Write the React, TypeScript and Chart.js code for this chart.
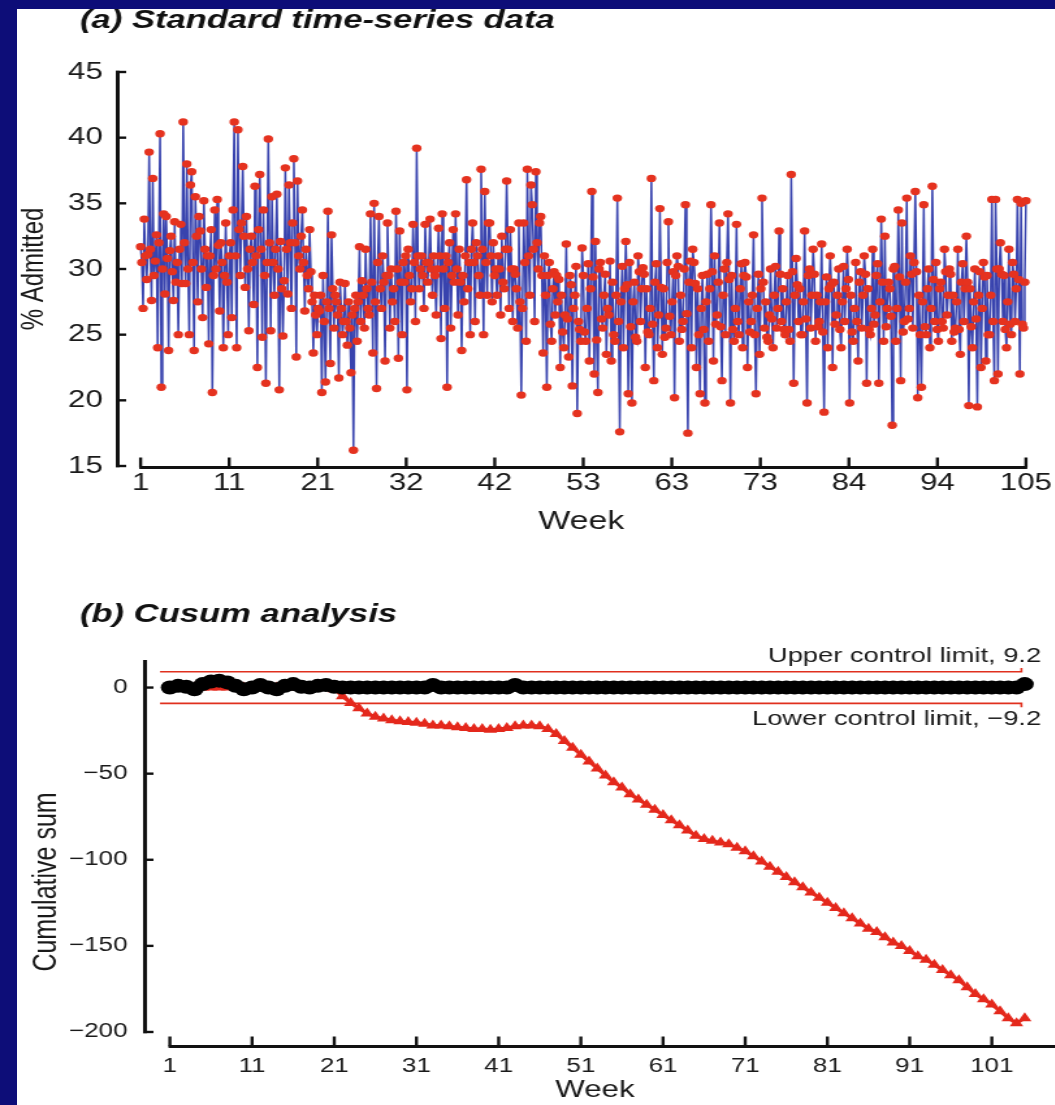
import React, { useEffect, useRef } from "react";
import { Chart, registerables } from "chart.js";

Chart.register(...registerables);

// ---------------- data ----------------
// Panel (a): % admitted, daily readings (7 per week), weeks 1..105
const admittedPct: number[] = [
  31.7, 30.5, 27.0, 33.8, 31.0, 29.2, 31.1,
  38.9, 31.5, 27.6, 36.9, 29.5, 30.6, 32.6,
  24.0, 32.0, 40.3, 21.0, 30.0, 34.2, 28.1,
  34.0, 30.8, 23.8, 31.4, 32.5, 29.8, 27.6,
  33.6, 29.0, 30.5, 25.0, 31.5, 33.4, 28.9,
  41.2, 32.0, 28.9, 38.0, 30.0, 25.0, 36.4,
  37.4, 30.5, 23.8, 35.5, 32.5, 27.5, 34.0,
  32.9, 30.0, 26.3, 35.2, 31.5, 28.6, 31.0,
  24.3, 31.0, 33.0, 20.6, 29.5, 34.5, 30.0,
  35.3, 31.8, 26.8, 32.0, 30.5, 24.0, 29.5,
  33.5, 29.0, 25.0, 31.0, 32.0, 26.3, 34.5,
  41.2, 31.0, 24.0, 40.6, 33.0, 29.5, 33.5,
  37.8, 32.5, 28.6, 34.0, 30.0, 25.3, 31.5,
  32.5, 30.5, 27.3, 36.3, 31.0, 22.5, 33.0,
  37.2, 31.5, 24.8, 34.5, 29.5, 21.3, 30.5,
  39.9, 32.0, 25.3, 35.5, 30.5, 28.0, 31.5,
  35.7, 30.0, 20.8, 32.1, 28.5, 24.9, 29.1,
  37.7, 31.5, 28.1, 36.4, 32.0, 27.0, 33.5,
  38.4, 32.0, 23.3, 36.7, 31.0, 30.0, 32.5,
  34.5, 30.5, 26.8, 31.5, 29.5, 28.5, 33.0,
  29.8, 27.5, 23.6, 28.0, 26.5, 25.0, 27.0,
  26.8, 28.0, 20.6, 29.5, 26.0, 21.4, 27.5,
  34.4, 27.0, 22.8, 32.6, 28.5, 25.5, 28.0,
  27.5, 26.5, 21.7, 29.0, 27.0, 25.0, 26.0,
  28.9, 26.0, 24.2, 27.5, 25.5, 22.1, 26.5,
  16.2, 27.0, 28.0, 24.5, 27.5, 31.7, 26.0,
  29.1, 28.0, 25.5, 31.5, 28.5, 27.0, 26.5,
  34.2, 29.0, 23.6, 35.0, 27.5, 20.9, 30.5,
  34.0, 28.5, 27.0, 31.0, 29.0, 23.0, 29.5,
  33.5, 29.5, 25.5, 30.0, 27.5, 28.5, 26.0,
  34.4, 30.0, 23.2, 32.9, 29.0, 25.0, 30.5,
  29.0, 31.0, 20.8, 31.5, 29.5, 27.5, 28.5,
  33.4, 30.5, 26.0, 39.2, 31.0, 28.5, 30.0,
  31.0, 29.5, 27.0, 33.4, 30.5, 29.0, 30.5,
  33.8, 30.0, 28.0, 31.0, 29.5, 26.5, 30.0,
  33.1, 31.0, 24.7, 34.2, 30.0, 27.0, 31.0,
  21.0, 30.5, 32.0, 25.5, 29.5, 33.0, 29.0,
  34.2, 30.0, 26.5, 31.5, 29.0, 23.8, 29.5,
  27.5, 31.0, 36.8, 28.5, 30.5, 25.0, 31.5,
  33.5, 30.5, 26.0, 32.0, 31.0, 29.5, 28.0,
  37.6, 31.5, 25.0, 35.9, 30.5, 28.0, 33.5,
  33.5, 31.0, 27.5, 32.0, 29.5, 30.0, 28.0,
  31.0, 30.0, 26.5, 32.5, 29.0, 28.5, 31.5,
  36.7, 31.5, 27.0, 33.0, 30.0, 26.0, 30.0,
  29.6, 28.5, 25.5, 33.5, 27.5, 20.4, 27.0,
  33.5, 30.5, 24.5, 37.6, 31.0, 28.0, 36.4,
  34.9, 31.5, 26.0, 37.4, 32.0, 30.0, 33.5,
  34.0, 29.5, 23.6, 31.0, 28.0, 21.0, 29.5,
  30.5, 25.8, 24.5, 28.5, 29.8, 26.5, 29.5,
  27.5, 29.2, 22.5, 28.0, 25.2, 24.0, 26.5,
  31.9, 26.2, 23.3, 29.5, 28.8, 21.1, 27.0,
  28.0, 30.2, 19.0, 26.0, 25.4, 24.5, 31.6,
  29.5, 25.2, 24.5, 27.0, 30.4, 23.0, 28.5,
  35.9, 29.4, 22.0, 32.1, 24.6, 20.6, 30.0,
  30.5, 26.2, 25.5, 28.0, 29.6, 23.5, 27.0,
  26.5, 30.6, 23.0, 29.0, 25.0, 24.5, 28.0,
  35.4, 26.0, 17.6, 27.5, 30.2, 24.0, 28.5,
  32.1, 28.8, 20.5, 30.5, 25.6, 19.8, 27.5,
  29.0, 24.8, 24.5, 31.0, 29.8, 26.0, 28.5,
  30.1, 29.6, 22.5, 28.5, 25.2, 25.0, 27.0,
  36.9, 25.8, 21.5, 29.0, 30.4, 24.0, 26.5,
  34.6, 28.6, 23.5, 28.5, 24.8, 25.5, 30.5,
  33.6, 26.4, 25.0, 27.5, 29.8, 20.2, 29.5,
  31.0, 30.2, 24.5, 28.0, 25.4, 26.0, 30.0,
  34.9, 26.6, 17.5, 29.0, 30.6, 24.0, 31.5,
  30.5, 28.9, 22.5, 28.5, 25.0, 20.5, 27.0,
  29.5, 25.4, 19.8, 27.5, 29.6, 24.5, 28.5,
  34.9, 29.8, 23.0, 31.0, 25.8, 26.5, 29.0,
  33.5, 25.6, 21.5, 28.0, 30.0, 25.0, 30.5,
  34.2, 29.2, 19.8, 29.5, 25.4, 24.5, 27.0,
  33.4, 26.0, 25.0, 28.5, 30.4, 24.0, 29.5,
  30.5, 29.4, 22.5, 27.5, 25.2, 26.0, 28.0,
  32.6, 25.0, 20.5, 27.0, 29.6, 23.5, 28.5,
  35.4, 29.0, 25.5, 27.5, 24.8, 24.5, 26.5,
  30.0, 26.2, 24.0, 28.0, 30.2, 25.5, 27.0,
  32.9, 29.6, 26.0, 28.5, 25.4, 25.0, 27.5,
  29.5, 25.4, 24.5, 37.2, 29.8, 21.3, 28.0,
  30.8, 28.8, 26.0, 28.5, 25.0, 25.0, 27.5,
  32.9, 26.2, 19.8, 29.5, 30.0, 25.5, 28.0,
  31.5, 29.6, 24.5, 28.0, 25.6, 26.0, 27.5,
  31.9, 25.2, 19.1, 27.5, 29.4, 24.0, 28.5,
  31.0, 28.8, 22.5, 29.0, 25.8, 26.5, 28.0,
  30.0, 25.4, 24.0, 27.5, 30.2, 26.0, 28.5,
  31.5, 29.2, 19.8, 28.0, 25.2, 24.5, 27.0,
  30.5, 26.0, 23.0, 29.0, 29.8, 25.5, 28.0,
  31.0, 29.6, 21.3, 28.5, 25.4, 25.0, 27.0,
  31.5, 25.8, 26.5, 29.5, 30.4, 21.3, 27.5,
  33.8, 29.0, 24.5, 32.5, 25.6, 27.0, 29.0,
  28.5, 26.4, 18.1, 30.0, 30.2, 24.5, 27.0,
  34.5, 29.4, 21.5, 33.5, 25.2, 26.0, 29.0,
  35.4, 26.2, 27.0, 31.0, 29.6, 25.5, 30.5,
  35.9, 29.8, 20.2, 28.0, 25.0, 21.0, 27.5,
  34.9, 25.6, 25.0, 28.5, 30.0, 24.0, 27.0,
  36.3, 29.2, 26.0, 30.5, 25.4, 24.5, 28.5,
  29.0, 26.0, 25.5, 31.5, 29.8, 26.5, 28.0,
  30.0, 29.6, 24.5, 28.0, 25.2, 25.5, 27.5,
  31.5, 25.4, 23.5, 29.0, 30.4, 26.0, 28.5,
  32.5, 29.0, 19.6, 28.5, 25.6, 24.0, 27.5,
  30.0, 26.2, 19.5, 28.0, 29.8, 22.5, 27.0,
  30.5, 29.4, 23.0, 29.5, 25.0, 25.0, 28.0,
  35.3, 26.0, 21.5, 35.3, 30.0, 22.0, 30.0,
  32.0, 29.6, 26.0, 29.5, 25.4, 24.0, 27.5,
  31.5, 25.8, 25.0, 30.5, 29.6, 26.0, 28.5,
  35.3, 29.2, 22.0, 35.0, 25.8, 25.5, 29.0,
  35.2,
];
const readingsPerWeek = 7;
const topWeekTickLabels = [1, 11, 21, 32, 42, 53, 63, 73, 84, 94, 105];
const topYTicks = [15, 20, 25, 30, 35, 40, 45];

// Panel (b): weekly cusum, weeks 1..105
const cusumWeeks: number[] = Array.from({ length: 105 }, (_, i) => i + 1);
const upperCusum: number[] = [
  0, 1, 0.5, -1, 2, 3.5, 4, 3, 1, -1,
  0, 1.5, 0, -1, 1, 2, 0.5, 0, 1, 1.5,
  0.5, 0, 0, 0, 0, 0, 0, 0, 0, 0,
  0, 0, 1.5, 0, 0, 0, 0, 0, 0, 0,
  0, 0, 1.5, 0, 0, 0, 0, 0, 0, 0,
  0, 0, 0, 0, 0, 0, 0, 0, 0, 0,
  0, 0, 0, 0, 0, 0, 0, 0, 0, 0,
  0, 0, 0, 0, 0, 0, 0, 0, 0, 0,
  0, 0, 0, 0, 0, 0, 0, 0, 0, 0,
  0, 0, 0, 0, 0, 0, 0, 0, 0, 0,
  0, 0, 0, 0, 2,
];
const lowerCusum: number[] = [
  0, 0, 0, 0, 0, 0, 0, 0, 0, 0,
  0, 0, 0, 0, 0, 0, 0, 0, 0, 0,
  -1, -5, -9, -12, -15, -17, -18, -19, -19.5, -20,
  -20.5, -21, -22, -22, -22.5, -23, -23.5, -24, -24, -24.5,
  -24, -23.5, -22.5, -22, -22, -22.5, -24, -27, -31, -35,
  -39, -43, -47, -51, -55, -58, -62, -65, -68, -71,
  -74, -77, -80, -83, -86, -88, -89, -90, -91, -93,
  -95, -98, -101, -104, -107, -110, -113, -116, -119, -122,
  -125, -128, -131, -134, -137, -140, -142, -145, -148, -150,
  -153, -156, -158, -161, -164, -167, -170, -174, -178, -181,
  -184, -188, -192, -195, -192,
];
const bottomWeekTicks = [1, 11, 21, 31, 41, 51, 61, 71, 81, 91, 101];
const bottomYTicks = [-200, -150, -100, -50, 0];
const upperControlLimit = 9.2;
const lowerControlLimit = -9.2;

// ---------------- look ----------------
const SX = 1.3; // the figure is stretched horizontally
const W = 812;
const FONT = "'Liberation Sans', Arial, Helvetica, sans-serif";
const NARROW = "'Liberation Sans Narrow', 'Liberation Sans', Arial, sans-serif";
const TXT = "#1a1a1a";

const topDecor = {
  id: "topDecor",
  afterDatasetsDraw(chart: any) {
    const { ctx, chartArea } = chart;
    const xs = chart.scales.x;
    const ys = chart.scales.y;
    ctx.save();
    ctx.strokeStyle = "#111";
    ctx.lineCap = "butt";
    ctx.lineWidth = 3;
    const ax = chartArea.left + 1.5;
    ctx.beginPath();
    ctx.moveTo(ax, ys.getPixelForValue(45) - 1.2);
    ctx.lineTo(ax, ys.getPixelForValue(15) + 1.2);
    ctx.stroke();
    ctx.lineWidth = 2.4;
    for (const v of topYTicks) {
      const py = ys.getPixelForValue(v);
      ctx.beginPath();
      ctx.moveTo(chartArea.left, py);
      ctx.lineTo(chartArea.left + 8, py);
      ctx.stroke();
    }
    const ay = ys.getPixelForValue(15) + 1.5;
    ctx.lineWidth = 3;
    ctx.beginPath();
    ctx.moveTo(xs.getPixelForValue(1) - 1, ay);
    ctx.lineTo(xs.getPixelForValue(105) + 1, ay);
    ctx.stroke();
    ctx.lineWidth = 2.4;
    topWeekTickLabels.forEach((_, k) => {
      const px = xs.getPixelForValue(1 + k * 10.4);
      ctx.beginPath();
      ctx.moveTo(px, ay);
      ctx.lineTo(px, ay - 10);
      ctx.stroke();
    });
    ctx.fillStyle = "#111";
    ctx.font = `italic bold 26.6px ${FONT}`;
    ctx.textBaseline = "alphabetic";
    ctx.textAlign = "left";
    ctx.fillText("(a) Standard time-series data", 61.5, 28);
    ctx.restore();
  },
};

const bottomDecor = {
  id: "bottomDecor",
  afterDatasetsDraw(chart: any) {
    const { ctx, chartArea } = chart;
    const xs = chart.scales.x;
    const ys = chart.scales.y;
    ctx.save();
    ctx.strokeStyle = "#111";
    ctx.lineCap = "butt";
    ctx.lineWidth = 3;
    const ax = chartArea.left + 1.5;
    ctx.beginPath();
    ctx.moveTo(ax, chartArea.top);
    ctx.lineTo(ax, ys.getPixelForValue(-200) + 1.2);
    ctx.stroke();
    ctx.lineWidth = 2.4;
    for (const v of bottomYTicks) {
      const py = ys.getPixelForValue(v);
      ctx.beginPath();
      ctx.moveTo(chartArea.left, py);
      ctx.lineTo(chartArea.left + 8, py);
      ctx.stroke();
    }
    const ay = chartArea.bottom - 1.5;
    ctx.lineWidth = 3;
    ctx.beginPath();
    ctx.moveTo(xs.getPixelForValue(1) - 1, ay);
    ctx.lineTo(xs.getPixelForValue(111), ay);
    ctx.stroke();
    ctx.lineWidth = 2.4;
    for (const v of bottomWeekTicks) {
      const px = xs.getPixelForValue(v);
      ctx.beginPath();
      ctx.moveTo(px, ay);
      ctx.lineTo(px, ay - 10);
      ctx.stroke();
    }
    ctx.fillStyle = TXT;
    ctx.font = `21px ${FONT}`;
    ctx.textAlign = "right";
    ctx.textBaseline = "middle";
    const lx = xs.getPixelForValue(107);
    ctx.fillText(`Upper control limit, ${upperControlLimit}`, lx, ys.getPixelForValue(upperControlLimit) - 16);
    ctx.fillText(`Lower control limit, \u2212${Math.abs(lowerControlLimit)}`, lx, ys.getPixelForValue(lowerControlLimit) + 16);
    ctx.save();
    ctx.translate(36, 322);
    ctx.rotate(-Math.PI / 2);
    ctx.textAlign = "center";
    ctx.font = `25px ${FONT}`;
    ctx.fillText("Cumulative sum", 0, 0);
    ctx.restore();
    ctx.fillStyle = "#111";
    ctx.font = `italic bold 26.6px ${FONT}`;
    ctx.textBaseline = "alphabetic";
    ctx.textAlign = "left";
    ctx.fillText("(b) Cusum analysis", 61.5, 62);
    ctx.restore();
  },
};

export default function App() {
  const topRef = useRef<HTMLCanvasElement | null>(null);
  const botRef = useRef<HTMLCanvasElement | null>(null);

  useEffect(() => {
    document.body.style.margin = "0";
    const topPoints = admittedPct.map((v, i) => ({ x: 1 + i / readingsPerWeek, y: v }));
    const top = new Chart(topRef.current as HTMLCanvasElement, {
      type: "line",
      data: {
        datasets: [
          {
            data: topPoints,
            borderColor: "#3843ae",
            borderWidth: 1.5,
            pointRadius: 3.7,
            pointBackgroundColor: "#e5321f",
            pointBorderWidth: 0,
            pointStyle: "circle",
            tension: 0,
          },
        ],
      },
      options: {
        animation: false,
        responsive: false,
        devicePixelRatio: 1,
        layout: { padding: { top: 72, left: 0, right: 0, bottom: 0 } },
        plugins: { legend: { display: false }, tooltip: { enabled: false } },
        scales: {
          x: {
            type: "linear",
            min: -1.92,
            max: 107.45,
            grid: { display: false, drawTicks: false },
            border: { display: false },
            afterFit: (s: any) => {
              s.height = 94;
            },
            afterBuildTicks: (s: any) => {
              s.ticks = topWeekTickLabels.map((_, k) => ({ value: 1 + k * 10.4 }));
            },
            ticks: {
              callback: (_v: any, i: number) => String(topWeekTickLabels[i]),
              font: { family: FONT, size: 24 },
              color: TXT,
              padding: 3,
              maxRotation: 0,
              autoSkip: false,
            },
            title: {
              display: true,
              text: "Week",
              font: { family: FONT, size: 26 },
              color: TXT,
              padding: { top: 0, bottom: 23 },
            },
          },
          y: {
            type: "linear",
            min: 15,
            max: 45,
            grid: { display: false, drawTicks: false },
            border: { display: false },
            afterFit: (s: any) => {
              s.width = 89;
            },
            afterBuildTicks: (s: any) => {
              s.ticks = topYTicks.map((v) => ({ value: v }));
            },
            ticks: {
              font: { family: FONT, size: 24 },
              color: TXT,
              padding: 10,
            },
            title: {
              display: true,
              text: "% Admitted",
              font: { family: FONT, size: 24 },
              color: TXT,
              padding: { top: 11.6, bottom: 0 },
            },
          },
        },
      },
      plugins: [topDecor],
    });

    const bottom = new Chart(botRef.current as HTMLCanvasElement, {
      type: "line",
      data: {
        datasets: [
          {
            data: cusumWeeks.map((w, i) => ({ x: w, y: upperCusum[i] })),
            borderColor: "#000",
            borderWidth: 2,
            pointRadius: 7,
            pointBackgroundColor: "#000",
            pointBorderWidth: 0,
            pointStyle: "circle",
            tension: 0,
          },
          {
            data: cusumWeeks.map((w, i) => ({ x: w, y: lowerCusum[i] })),
            borderColor: "#e4281c",
            borderWidth: 3,
            pointRadius: 6,
            pointBackgroundColor: "#e4281c",
            pointBorderWidth: 0,
            pointStyle: "triangle",
            tension: 0,
          },
          {
            data: [
              { x: -0.2, y: upperControlLimit },
              { x: 104.6, y: upperControlLimit },
              { x: 104.6, y: upperControlLimit + 2.2 },
            ],
            borderColor: "#e0301e",
            borderWidth: 1.6,
            pointRadius: 0,
            tension: 0,
          },
          {
            data: [
              { x: -0.2, y: lowerControlLimit },
              { x: 104.6, y: lowerControlLimit },
              { x: 104.6, y: lowerControlLimit - 2.2 },
            ],
            borderColor: "#e0301e",
            borderWidth: 1.6,
            pointRadius: 0,
            tension: 0,
          },
        ],
      },
      options: {
        animation: false,
        responsive: false,
        devicePixelRatio: 1,
        layout: { padding: { top: 100, left: 0, right: 0, bottom: 0 } },
        plugins: { legend: { display: false }, tooltip: { enabled: false } },
        scales: {
          x: {
            type: "linear",
            min: -2.26,
            max: 107.7,
            grid: { display: false, drawTicks: false },
            border: { display: false },
            afterFit: (s: any) => {
              s.height = 57;
            },
            afterBuildTicks: (s: any) => {
              s.ticks = bottomWeekTicks.map((v) => ({ value: v }));
            },
            ticks: {
              font: { family: NARROW, size: 20 },
              color: TXT,
              padding: 6,
              maxRotation: 0,
              autoSkip: false,
            },
            title: {
              display: true,
              text: "Week",
              font: { family: NARROW, size: 24 },
              color: TXT,
              padding: { top: 0, bottom: 0 },
            },
          },
          y: {
            type: "linear",
            min: -209.3,
            max: 16,
            grid: { display: false, drawTicks: false },
            border: { display: false },
            afterFit: (s: any) => {
              s.width = 110;
            },
            afterBuildTicks: (s: any) => {
              s.ticks = bottomYTicks.map((v) => ({ value: v }));
            },
            ticks: {
              font: { family: NARROW, size: 20 },
              color: TXT,
              padding: 12,
              callback: (v: any) => (Number(v) < 0 ? "\u2212" + Math.abs(Number(v)) : String(v)),
            },
          },
        },
      },
      plugins: [bottomDecor],
    });

    return () => {
      top.destroy();
      bottom.destroy();
    };
  }, []);

  return (
    <div
      style={{
        position: "absolute",
        left: 0,
        top: 0,
        width: 1055,
        height: 1105,
        background: "#0d0d78",
        overflow: "hidden",
      }}
    >
      <div
        style={{
          position: "absolute",
          left: 17,
          top: 9,
          right: 0,
          bottom: 0,
          background: "#ffffff",
        }}
      />
      <canvas
        ref={topRef}
        width={W}
        height={560}
        style={{ position: "absolute", left: 0, top: 0, width: `${W * SX}px`, height: "560px" }}
      />
      <canvas
        ref={botRef}
        width={W}
        height={545}
        style={{ position: "absolute", left: 0, top: 560, width: `${W * SX}px`, height: "545px" }}
      />
    </div>
  );
}
